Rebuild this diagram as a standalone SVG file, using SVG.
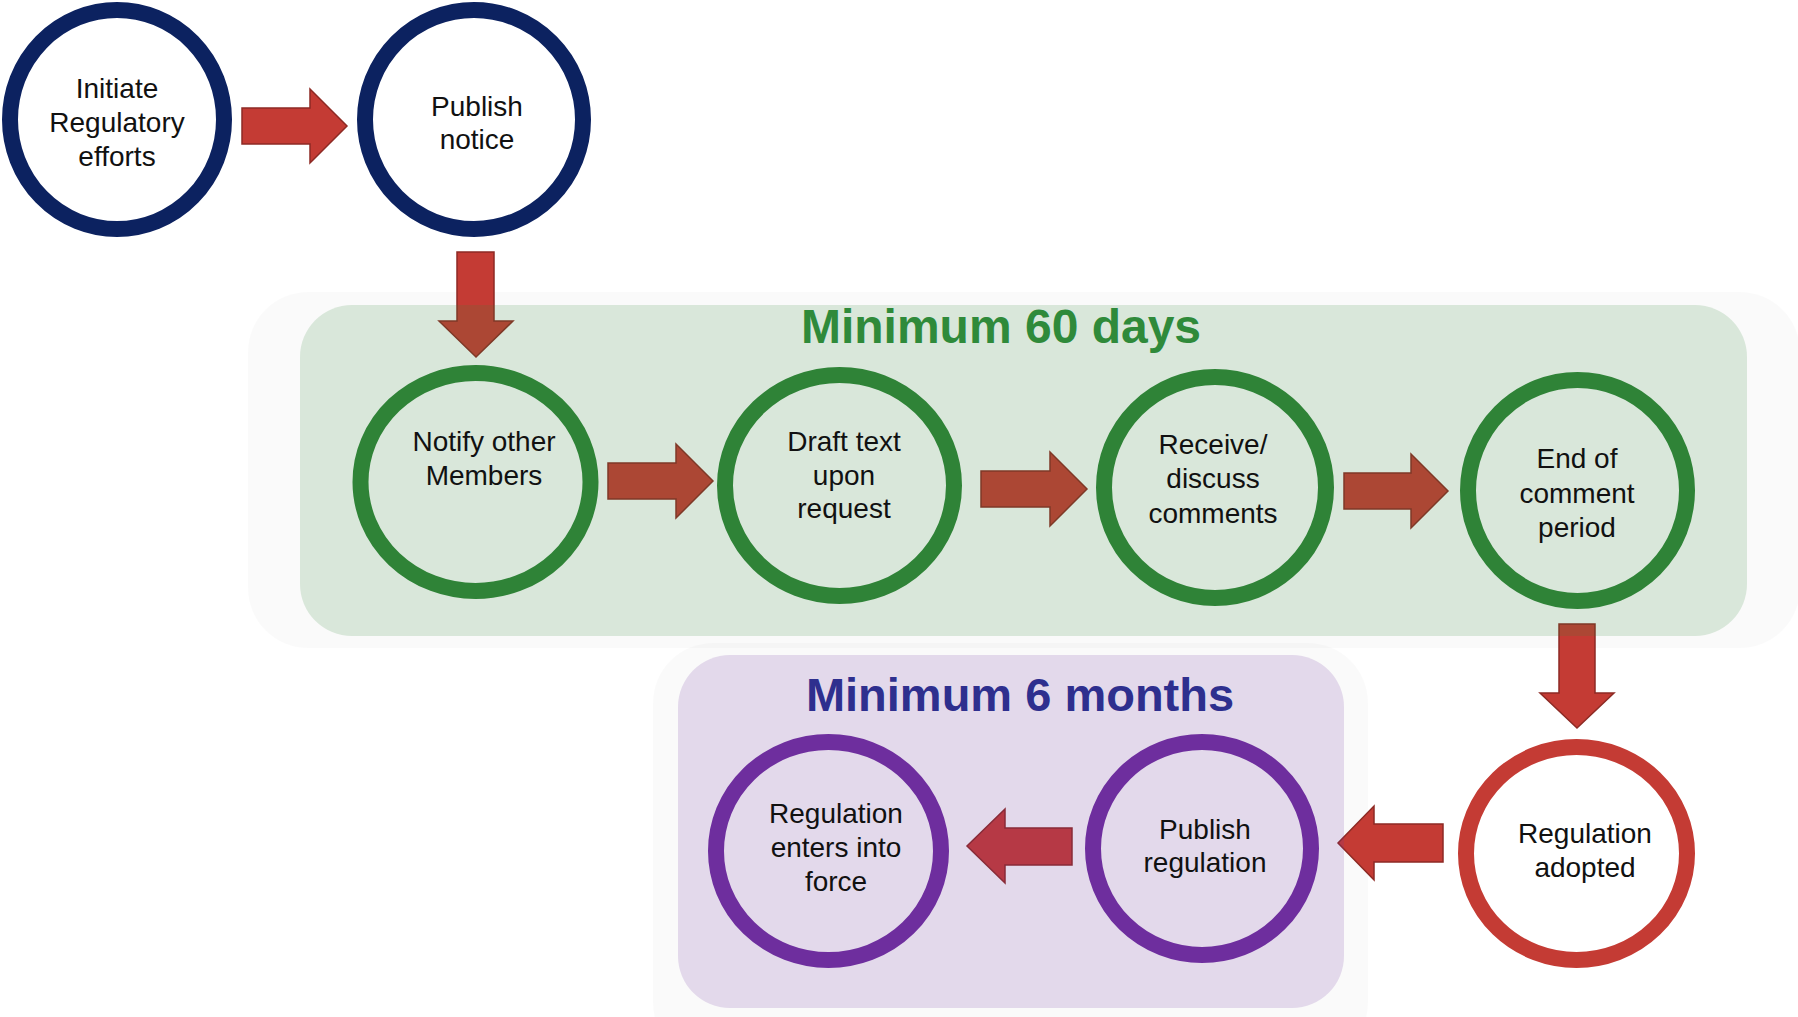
<svg xmlns="http://www.w3.org/2000/svg" width="1798" height="1017" viewBox="0 0 1798 1017">
<style>
.halo{fill:#000;fill-opacity:0.02}
.gbox{fill:#2f8a3b;fill-opacity:0.16}
.pbox{fill:#7030a0;fill-opacity:0.16}
.arrow{fill:#c43b34;stroke:#8d2a24;stroke-width:1.5;stroke-linejoin:miter}
.ring{stroke-width:16}
.navy{fill:#fff;stroke:#0c2260}
.green{fill:none;stroke:#2f8337}
.purple{fill:none;stroke:#6e2e9e}
.red{fill:#fff;stroke:#c43b34}
.lbl{font-family:"Liberation Sans",Arial,sans-serif;font-size:28px;fill:#111;text-anchor:middle}
.title{font-family:"Liberation Sans",Arial,sans-serif;font-weight:bold;text-anchor:middle}
</style>
<rect width="1798" height="1017" fill="#fff"/>
<g id="halos">
<rect class="halo" x="248" y="292" width="1552" height="356" rx="60"/>
<rect class="halo" x="653" y="643" width="715" height="420" rx="60"/>
</g>
<g id="connectors">
<polygon class="arrow" points="242,108 310,108 310,89 347,126 310,163 310,144 242,144"/>
<polygon class="arrow" points="457,252 494,252 494,321 513,321 476,357 439,321 457,321"/>
<polygon class="arrow" points="608,463 676,463 676,444 713,481 676,518 676,499 608,499"/>
<polygon class="arrow" points="981,471 1050,471 1050,452 1087,489 1050,526 1050,507 981,507"/>
<polygon class="arrow" points="1344,473 1411,473 1411,454 1448,491 1411,528 1411,509 1344,509"/>
<polygon class="arrow" points="1559,624 1595,624 1595,693 1614,693 1577,728 1540,693 1559,693"/>
<polygon class="arrow" points="1443,824 1374,824 1374,806 1338,843 1374,880 1374,862 1443,862"/>
<polygon class="arrow" points="1072,828 1005,828 1005,809 967,846 1005,883 1005,865 1072,865"/>
</g>
<g id="group-60days">
<rect class="gbox" x="300" y="305" width="1447" height="331" rx="52"/>
<text class="title" x="1001" y="343" font-size="48" fill="#2f8a3a">Minimum 60 days</text>
</g>
<g id="group-6months">
<rect class="pbox" x="678" y="655" width="666" height="353" rx="52"/>
<text class="title" x="1020" y="711" font-size="47" fill="#2e2f8e">Minimum 6 months</text>
</g>
<g id="node-initiate">
<ellipse class="ring navy" cx="117" cy="119.5" rx="107" ry="109.5"/>
<text class="lbl" x="117" y="98">Initiate</text>
<text class="lbl" x="117" y="132">Regulatory</text>
<text class="lbl" x="117" y="166">efforts</text>
</g>
<g id="node-publish-notice">
<ellipse class="ring navy" cx="474" cy="119.5" rx="109" ry="109.5"/>
<text class="lbl" x="477" y="116">Publish</text>
<text class="lbl" x="477" y="149">notice</text>
</g>
<g id="node-notify">
<ellipse class="ring green" cx="475.5" cy="482" rx="115" ry="109"/>
<text class="lbl" x="484" y="451">Notify other</text>
<text class="lbl" x="484" y="485">Members</text>
</g>
<g id="node-draft">
<ellipse class="ring green" cx="839.5" cy="485.5" rx="114.5" ry="110.5"/>
<text class="lbl" x="844" y="451">Draft text</text>
<text class="lbl" x="844" y="485">upon</text>
<text class="lbl" x="844" y="518">request</text>
</g>
<g id="node-receive">
<ellipse class="ring green" cx="1215" cy="487.5" rx="111" ry="110.5"/>
<text class="lbl" x="1213" y="454">Receive/</text>
<text class="lbl" x="1213" y="488">discuss</text>
<text class="lbl" x="1213" y="523">comments</text>
</g>
<g id="node-end">
<ellipse class="ring green" cx="1577.5" cy="490.5" rx="109.5" ry="110.5"/>
<text class="lbl" x="1577" y="468">End of</text>
<text class="lbl" x="1577" y="503">comment</text>
<text class="lbl" x="1577" y="537">period</text>
</g>
<g id="node-adopted">
<ellipse class="ring red" cx="1576.5" cy="853.5" rx="110.5" ry="106.5"/>
<text class="lbl" x="1585" y="843">Regulation</text>
<text class="lbl" x="1585" y="877">adopted</text>
</g>
<g id="node-publish-regulation">
<ellipse class="ring purple" cx="1202" cy="848.5" rx="109" ry="106.5"/>
<text class="lbl" x="1205" y="839">Publish</text>
<text class="lbl" x="1205" y="872">regulation</text>
</g>
<g id="node-enters">
<ellipse class="ring purple" cx="828.5" cy="851" rx="112.5" ry="109"/>
<text class="lbl" x="836" y="823">Regulation</text>
<text class="lbl" x="836" y="857">enters into</text>
<text class="lbl" x="836" y="891">force</text>
</g>
</svg>
